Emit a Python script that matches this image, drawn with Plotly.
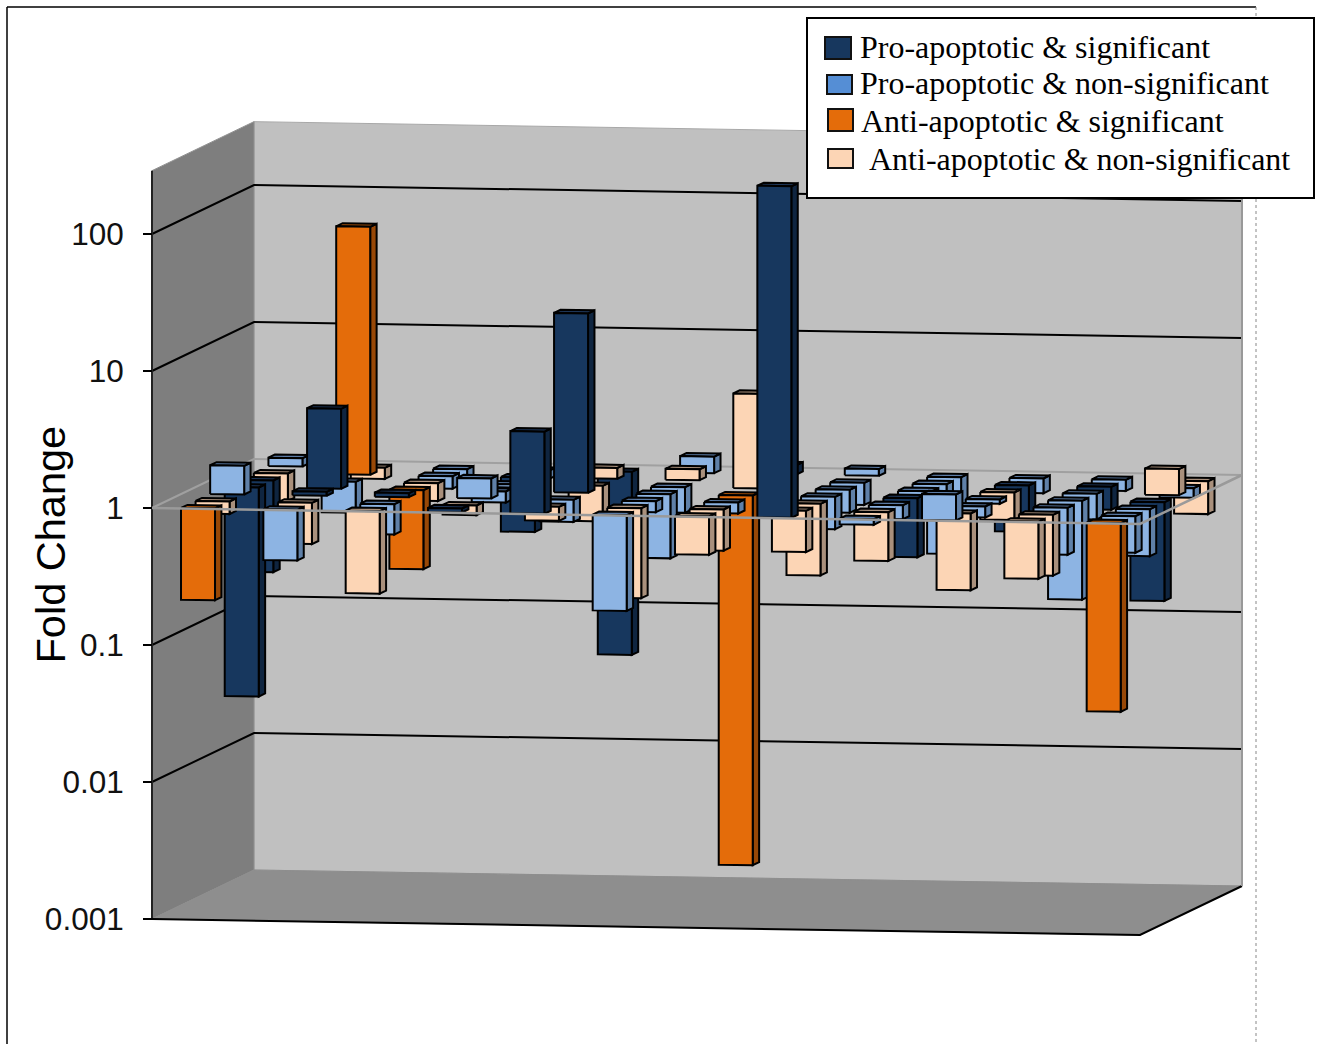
import plotly.graph_objects as go

W, H = 1321, 1044

columns = list(range(12))
tick_values = [0.001, 0.01, 0.1, 1, 10, 100]
tick_labels = ["0.001", "0.01", "0.1", "1", "10", "100"]

# fold change per depth row (front to back), one value per column
series_0 = [0.214, 0.427, 0.25, 1.07, 3.98, 0.20, 0.525, 263, 0.91, 1.55, 0.384, 0.042]
series_1 = [0.81, 0.50, 0.60, 0.85, 0.79, 0.22, 0.50, 0.50, 0.44, 0.275, 0.36, 0.54]
series_2 = [1.62, 1.07, 1.07, 1.40, 0.69, 0.83, 0.83, 0.30, 0.79, 0.83, 0.454, 0.454]
series_3 = [0.0298, 3.84, 0.265, 0.83, 20.4, 0.34, 0.002, 0.58, 0.37, 0.93, 0.19, 0.19]
series_4 = [0.214, 0.594, 0.74, 0.95, 0.55, 0.65, 4.9, 0.68, 0.85, 0.63, 0.65, 1.55]
series_5 = [0.63, 64.6, 0.81, 0.40, 1.20, 1.2, 1.02, 0.69, 0.83, 0.46, 0.68, 0.85]
series_6 = [1.15, 0.83, 0.87, 0.87, 0.0461, 1.32, 1.17, 1.12, 0.275, 0.78, 0.83, 0.575]

# P pro sig, p pro non-sig, A anti sig, a anti non-sig
class_0 = list("ApaPPpaPppaA")
class_1 = list("aapaaaaaaaap")
class_2 = list("pPPppppapppp")
class_3 = list("PPApPpApPppP")
class_4 = list("Ppapapappapa")
class_5 = list("aApPaapppPPp")
class_6 = list("pappPpPppppa")

legend_labels = ["Pro-apoptotic & significant", "Pro-apoptotic & non-significant",
                 "Anti-apoptotic & significant", "\u00a0Anti-apoptotic & non-significant"]

rows_v = [series_0, series_1, series_2, series_3, series_4, series_5, series_6]
rows_c = [class_0, class_1, class_2, class_3, class_4, class_5, class_6]

FACE = {"P": "#17375e", "p": "#8db4e3", "A": "#e46c0a", "a": "#fcd5b5"}
SIDE = {"P": "#0f2540", "p": "#5f80a8", "A": "#984807", "a": "#a9907c"}
TOP = {"P": "#1d3557", "p": "#5b7ba5", "A": "#a6510a", "a": "#a9907c"}

PX_CAT = 988 / 12
PX_DEC = 137
DX = 102 / PX_CAT      # depth 1 -> category shift
DLOG = 49 / PX_DEC     # depth 1 -> decades up
CLOG = -(16 / 12) / PX_DEC  # per category -> decades


def proj(cat, depth, value):
    return cat + depth * DX, value * 10 ** (depth * DLOG + cat * CLOG)


def poly(points, fill=None, line="black", width=2):
    pts = [proj(*p) for p in points]
    xs = [p[0] for p in pts]
    ys = [p[1] for p in pts]
    return go.Scatter(x=xs, y=ys, mode="lines", fill="toself" if fill else None,
                      fillcolor=fill, line=dict(color=line, width=width),
                      hoverinfo="skip", showlegend=False)


fig = go.Figure()
TOPV, BOTV = 290, 0.001
# walls and floor
fig.add_trace(poly([(0, 1, BOTV), (12, 1, BOTV), (12, 1, TOPV), (0, 1, TOPV), (0, 1, BOTV)], "#c0c0c0", "#a8a8a8", 1))
fig.add_trace(poly([(0, 0, BOTV), (0, 1, BOTV), (0, 1, TOPV), (0, 0, TOPV), (0, 0, BOTV)], "#7e7e7e", "#909090", 1))
fig.add_trace(poly([(0, 0, BOTV), (12, 0, BOTV), (12, 1, BOTV), (0, 1, BOTV), (0, 0, BOTV)], "#8e8e8e", "#8e8e8e", 1))
# grid lines
for v in tick_values:
    if v in (1, 0.001):
        continue
    fig.add_trace(poly([(0, 0, v), (0, 1, v), (12, 1, v)], None, "black", 2))
# wall edges
fig.add_trace(poly([(0, 0, BOTV), (0, 0, TOPV)], None, "#222222", 2))
fig.add_trace(poly([(0, 0, BOTV), (12, 0, BOTV), (12, 1, BOTV)], None, "black", 2))
fig.add_trace(poly([(12, 1, BOTV), (12, 1, TOPV)], None, "#999999", 2))
# back and left edges of the plane at 1
fig.add_trace(poly([(0, 0, 1), (0, 1, 1), (12, 1, 1)], None, "#a0a0a0", 2))

A = 0.34
B = 0.07
BW = 34 / PX_CAT
BD = 0.44 / 7

for r in range(6, -1, -1):
    for c in columns:
        v = rows_v[r][c]
        k = rows_c[r][c]
        x0 = c + A
        x1 = x0 + BW
        d0 = (r + B) / 7
        d1 = d0 + BD
        hi = max(v, 1)
        fig.add_trace(poly([(x1, d0, 1), (x1, d1, 1), (x1, d1, v), (x1, d0, v), (x1, d0, 1)], SIDE[k]))
        fig.add_trace(poly([(x0, d0, hi), (x1, d0, hi), (x1, d1, hi), (x0, d1, hi), (x0, d0, hi)], TOP[k]))
        fig.add_trace(poly([(x0, d0, 1), (x1, d0, 1), (x1, d0, v), (x0, d0, v), (x0, d0, 1)], FACE[k]))

# front and right edges of the plane at 1
fig.add_trace(poly([(0, 0, 1), (12, 0, 1), (12, 1, 1)], None, "#9a9a9a", 2.5))


def px(x):
    return x / W


def py(y):
    return 1 - y / H


shapes = [
    dict(type="line", xref="paper", yref="paper", x0=px(7), x1=px(7), y0=py(7), y1=0, line=dict(color="black", width=1.5)),
    dict(type="line", xref="paper", yref="paper", x0=px(7), x1=px(1256), y0=py(7), y1=py(7), line=dict(color="black", width=1.5)),
    dict(type="line", xref="paper", yref="paper", x0=px(1256), x1=px(1256), y0=py(7), y1=0, line=dict(color="#888888", width=1, dash="dot")),
    dict(type="rect", xref="paper", yref="paper", x0=px(807), x1=px(1314), y0=py(198), y1=py(18), fillcolor="white", line=dict(color="black", width=2)),
]
swatches = [("#17375e", 825, 851, 37, 59), ("#558ed5", 827, 852, 75, 94), ("#e46c0a", 828, 853, 109, 131), ("#fcd5b5", 828, 853, 149, 168)]
for col, xa, xb, ya, yb in swatches:
    shapes.append(dict(type="rect", xref="paper", yref="paper", x0=px(xa), x1=px(xb), y0=py(yb), y1=py(ya), fillcolor=col, line=dict(color="#111111", width=2)))

annotations = []
for lab, tx, ty in zip(legend_labels, [858, 858, 859, 859], [47.5, 83.5, 120.5, 158.5]):
    annotations.append(dict(text=lab, xref="paper", yref="paper", x=px(tx), y=py(ty), xanchor="left", yanchor="middle",
                            showarrow=False, font=dict(family="Liberation Serif", size=32, color="black")))
annotations.append(dict(text="Fold Change", xref="paper", yref="paper", x=px(50), y=py(544.5), textangle=-90,
                        showarrow=False, font=dict(family="Liberation Sans", size=41.5, color="black"), xanchor="center", yanchor="middle"))

fig.update_layout(
    width=W, height=H, margin=dict(l=0, r=0, t=0, b=0), autosize=False,
    paper_bgcolor="white", plot_bgcolor="white", showlegend=False,
    shapes=shapes, annotations=annotations,
    xaxis=dict(visible=False, range=[-152 / PX_CAT, (W - 152) / PX_CAT], fixedrange=True),
    yaxis=dict(type="log", range=[-(H - 508) / PX_DEC, 508 / PX_DEC], anchor="free", position=152 / W,
               tickmode="array", tickvals=tick_values, ticktext=tick_labels, showgrid=False, zeroline=False,
               showline=False, ticks="outside", ticklen=9, tickwidth=1.5, tickcolor="black", ticklabelstandoff=13,
               tickfont=dict(family="Liberation Sans", size=31.5, color="#111111"), fixedrange=True),
)
fig.write_html("out.html", post_script="document.body.style.margin='0';document.body.style.overflow='hidden';", config={"displayModeBar": False})
